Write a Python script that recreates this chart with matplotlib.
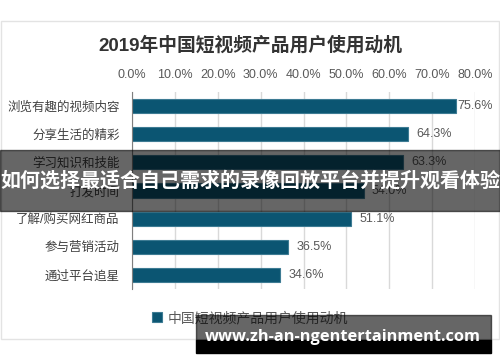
import matplotlib.pyplot as plt
from matplotlib.patches import Rectangle

plt.rcParams['font.family'] = ['Liberation Sans', 'Noto Sans CJK SC', 'DejaVu Sans']

categories = ['浏览有趣的视频内容', '分享生活的精彩', '学习知识和技能', '打发时间',
              '了解/购买网红商品', '参与营销活动', '通过平台追星']
values = [75.6, 64.3, 63.3, 54.0, 51.1, 36.5, 34.6]
ticks = [0, 10, 20, 30, 40, 50, 60, 70, 80]
title = '2019年中国短视频产品用户使用动机'
legend_label = '中国短视频产品用户使用动机'
banner_text = '如何选择最适合自己需求的录像回放平台并提升观看体验'
watermark = 'www.zh-an-ngentertainment.com'

bar_color = '#0b5572'
text_gray = '#595959'

fig = plt.figure(figsize=(5, 3.62), dpi=100)
W, H = 500, 362

# chart frame
fig.patches.append(Rectangle((1 / W, 1 - 339 / H), 498 / W, 318 / H,
                             transform=fig.transFigure, fill=False,
                             edgecolor='#e3e3e3', lw=1))

ax = fig.add_axes([132 / W, 73 / H, 343 / W, 197 / H])
y = range(len(categories))
bars = ax.barh(y, values, height=0.5, color=bar_color, edgecolor='#3d7b93',
               linewidth=0.8, label=legend_label, zorder=3)
ax.set_xlim(0, 80)
ax.set_ylim(len(categories) - 0.5, -0.5)
ax.set_yticks(list(y))
ax.set_yticklabels(categories, fontsize=9, color='#404040')
ax.set_xticks(ticks)
ax.set_xticklabels([f'{t:.1f}%' for t in ticks], fontsize=9, color=text_gray)
ax.xaxis.tick_top()
ax.tick_params(axis='both', length=0, pad=8)
ax.tick_params(axis='y', pad=9)
ax.grid(axis='x', color='#d9d9d9', lw=1, zorder=0)
for s in ['top', 'right', 'bottom']:
    ax.spines[s].set_visible(False)
ax.spines['left'].set_color('#7f7f7f')
ax.spines['left'].set_zorder(4)

for i, v in enumerate(values):
    off = 1 if v > 74 else 6
    ax.annotate(f'{v:.1f}%', (v, i), xytext=(off, 0), textcoords='offset points',
                va='center', ha='left', fontsize=9, color=text_gray,
                annotation_clip=False, zorder=5)

fig.text(0.5, 1 - 45 / H, title, ha='center', va='center', fontsize=13.5,
         fontweight='bold', color='#333333')

leg = fig.legend(loc='center', bbox_to_anchor=(250 / W, 1 - 318 / H), frameon=False,
                 fontsize=10, handlelength=0.7, handleheight=0.7, handletextpad=0.4)
for t in leg.get_texts():
    t.set_color(text_gray)

# overlay banner
fig.patches.append(Rectangle((0, 1 - 211 / H), 1, 61 / H, transform=fig.transFigure,
                             color='black', alpha=0.6, zorder=10))
fig.text(0.5, 1 - 181 / H, banner_text, ha='center', va='center', fontsize=14.4,
         fontweight='bold', color='white', zorder=11)

# watermark
fig.patches.append(Rectangle((196 / W, 1 - 340 / H), 295 / W, 25 / H,
                             transform=fig.transFigure, color='black', alpha=0.6, zorder=10))
fig.patches.append(Rectangle((196 / W, 1 - 353 / H), 295 / W, 13 / H,
                             transform=fig.transFigure, color='black', zorder=10))
fig.text(343 / W, 1 - 337 / H, watermark, ha='center', va='center', fontsize=11.8,
         fontweight='bold', color='white', family=['Open Sans', 'DejaVu Sans'], zorder=11)

fig.savefig('out.png', dpi=100)
